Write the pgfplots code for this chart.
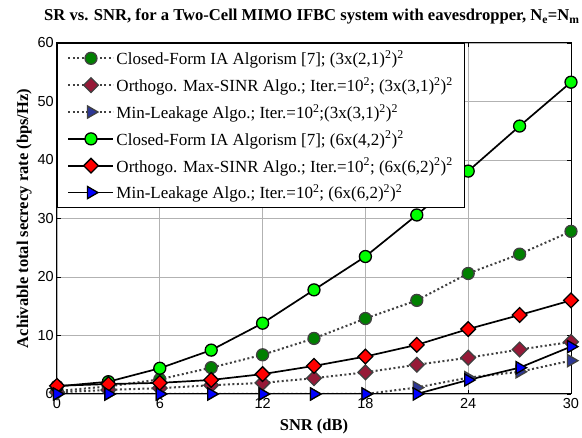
\documentclass[border=0pt]{standalone}
\usepackage{fontspec}
\setmainfont{Liberation Serif}
\setsansfont{Liberation Sans}
\usepackage{pgfplots}
\pgfplotsset{compat=1.18}
\definecolor{dgreen}{RGB}{0,128,0}
\definecolor{lgreen}{RGB}{0,255,0}
\definecolor{dred}{RGB}{150,25,55}
\definecolor{dblue}{RGB}{45,55,150}
\definecolor{egray}{RGB}{64,64,64}
\begin{document}
\begin{tikzpicture}[x=1pt,y=1pt]
\path[use as bounding box] (0,0) rectangle (582,438);
\begin{axis}[
  at={(57pt,44pt)}, anchor=south west,
  scale only axis, width=514pt, height=351pt,
  xmin=0, xmax=30, ymin=0, ymax=60,
  xtick={0,6,...,30}, ytick={0,10,...,60},
  grid=major, grid style={black!30, line width=0.9pt},
  axis line style={line width=1pt},
  tick align=inside, major tick length=4pt, tick style={black, line width=0.8pt},
  ticklabel style={font=\sffamily\fontsize{14.5}{16}\selectfont},
  xticklabel style={inner sep=1pt, yshift=-3pt},
  yticklabel style={inner sep=1pt, xshift=-2pt},
  /pgf/number format/assume math mode=true,
  xlabel={SNR (dB)},
  ylabel={Achivable total secrecy rate (bps/Hz)},
  label style={font=\bfseries\fontsize{16.5}{18}\selectfont},
  xlabel style={at={(axis description cs:0.5,-0.1026)}, anchor=base},
  ylabel style={at={(axis description cs:-0.0564,0.5)}, anchor=base},
  legend cell align=left,
  legend style={at={(0,1)}, anchor=north west, draw=black, line width=1pt,
     font=\fontsize{17}{19}\selectfont, row sep=7.2pt, inner xsep=10pt, inner ysep=5pt},
  legend image code/.code={\draw[mark repeat=2,mark phase=2,#1] plot coordinates {(0pt,0pt)(22.5pt,0pt)(45pt,0pt)};},
]
% dotted series
\addplot[egray, line width=2pt, dash pattern=on 2pt off 2.5pt, mark=*, mark size=6pt,
  mark options={solid, fill=dgreen, draw=egray, line width=1.3pt}]
  coordinates {(0,0.5)(3,1.3)(6,2.5)(9,4.5)(12,6.7)(15,9.5)(18,12.9)(21,16.0)(24,20.6)(27,23.9)(30,27.8)};
\addlegendentry{Closed-Form IA Algorism [7]; (3x(2,1)\textsuperscript{2})\textsuperscript{2}}
\addplot[egray, line width=2pt, dash pattern=on 2pt off 2.5pt, mark=square*, mark size=5.2pt,
  mark options={solid, rotate=45, fill=dred, draw=egray, line width=1.3pt}]
  coordinates {(0,0.3)(3,0.7)(6,1.0)(9,1.5)(12,1.9)(15,2.7)(18,3.7)(21,5.0)(24,6.2)(27,7.6)(30,8.9)};
\addlegendentry{Orthogo. Max-SINR Algo.; Iter.=10\textsuperscript{2}; (3x(3,1)\textsuperscript{2})\textsuperscript{2}}
\addplot[egray, line width=2pt, dash pattern=on 2pt off 2.5pt, mark=triangle*, mark size=7pt,
  mark options={solid, rotate=-90, fill=dblue, draw=egray, line width=1.3pt}]
  coordinates {(0,0)(3,0)(6,0)(9,0)(12,0)(15,0)(18,0)(21,1.1)(24,2.8)(27,3.8)(30,5.7)};
\addlegendentry{Min-Leakage Algo.; Iter.=10\textsuperscript{2};(3x(3,1)\textsuperscript{2})\textsuperscript{2}}
% solid series
\addplot[black, line width=1.7pt, mark=*, mark size=6pt,
  mark options={solid, fill=lgreen, draw=black, line width=1.3pt}]
  coordinates {(0,1.3)(3,2.1)(6,4.4)(9,7.5)(12,12.1)(15,17.8)(18,23.5)(21,30.6)(24,38.1)(27,45.8)(30,53.3)};
\addlegendentry{Closed-Form IA Algorism [7]; (6x(4,2)\textsuperscript{2})\textsuperscript{2}}
\addplot[black, line width=1.7pt, mark=square*, mark size=5.2pt,
  mark options={solid, rotate=45, fill=red, draw=black, line width=1.3pt}]
  coordinates {(0,1.4)(3,1.7)(6,1.9)(9,2.4)(12,3.4)(15,4.8)(18,6.4)(21,8.4)(24,11.1)(27,13.5)(30,16.0)};
\addlegendentry{Orthogo. Max-SINR Algo.; Iter.=10\textsuperscript{2}; (6x(6,2)\textsuperscript{2})\textsuperscript{2}}
\addplot[black, line width=1.7pt, mark=triangle*, mark size=7pt,
  mark options={solid, rotate=-90, fill=blue, draw=black, line width=1.3pt}]
  coordinates {(0,0)(3,0)(6,0)(9,0)(12,0)(15,0)(18,0)(21,0)(24,2.4)(27,4.5)(30,8.1)};
\addlegendentry{Min-Leakage Algo.; Iter.=10\textsuperscript{2}; (6x(6,2)\textsuperscript{2})\textsuperscript{2}}
\end{axis}
\node[anchor=base west, font=\bfseries\fontsize{16.6}{19}\selectfont, inner sep=0pt] at (44,417)
  {SR vs. SNR, for a Two-Cell MIMO IFBC system with eavesdropper, N\textsubscript{e}=N\textsubscript{m}};
\end{tikzpicture}
\end{document}
